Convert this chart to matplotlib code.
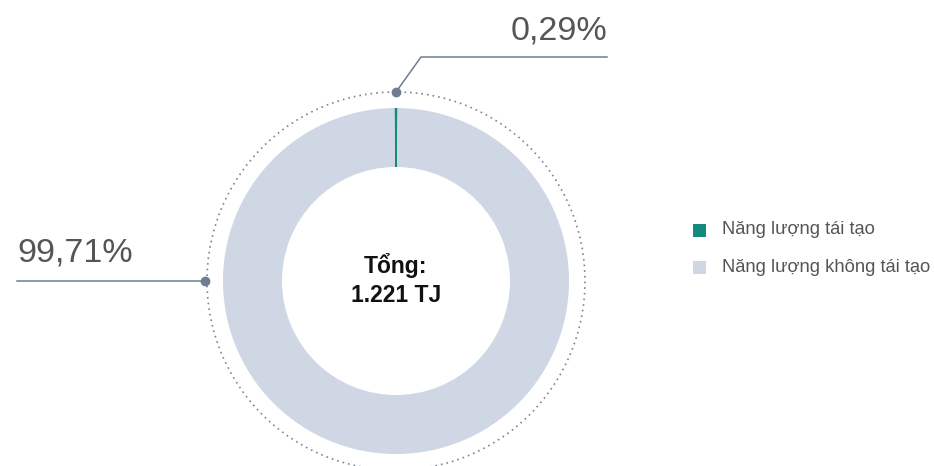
import matplotlib
matplotlib.use("Agg")
import matplotlib.pyplot as plt
from matplotlib.patches import Circle, Rectangle
import numpy as np

plt.rcParams['font.family'] = ['Liberation Sans', 'DejaVu Sans']

categories = ["Năng lượng tái tạo", "Năng lượng không tái tạo"]
values = [0.29, 99.71]
colors = ["#138a7b", "#cfd7e4"]
center_title = "Tổng:"
center_total = "1.221 TJ"
label_angles = [90, 180]

W, H = 934, 466
fig = plt.figure(figsize=(W / 100, H / 100), dpi=100)
ax = fig.add_axes([0, 0, 1, 1])

cx, cy = 396, H - 281
R, width = 173, 59
start = 90 - values[0] / sum(values) * 360 / 2
ax.pie(values, colors=colors, startangle=start, counterclock=True,
       radius=R, center=(cx, cy), wedgeprops=dict(width=width, linewidth=0))
ax.set_xlim(0, W)
ax.set_ylim(0, H)
ax.set_aspect('equal')
ax.axis('off')

# dotted outer ring
ax.add_patch(Circle((cx, cy), 189, fill=False, edgecolor="#7a869a",
                    linewidth=1.2, linestyle=(0, (1, 2.4))))

line_c = "#6f7d91"


def fmt(v):
    return f"{v:.2f}".replace(".", ",") + "%"


a = np.deg2rad(label_angles[0])
px, py = cx + 189 * np.cos(a), cy + 189 * np.sin(a)
ax.plot([px, px + 25, 607], [py, H - 57, H - 57], color=line_c, lw=1.1)
ax.plot(px, py, 'o', color=line_c, ms=6)
ax.text(607, H - 40, fmt(values[0]), ha='right', va='baseline',
        fontsize=24.5, color="#555555")

a = np.deg2rad(label_angles[1])
px, py = cx + 191 * np.cos(a), cy + 191 * np.sin(a)
ax.plot([px, 17], [py, py], color=line_c, lw=1.1)
ax.plot(px, py, 'o', color=line_c, ms=6)
ax.text(17, H - 262, fmt(values[1]), ha='left', va='baseline',
        fontsize=24.5, color="#555555")

# center text
ax.text(cx, H - 265, center_title, ha='center', va='center',
        fontsize=16.5, fontweight='bold', color="#111111")
ax.text(cx, H - 296, center_total, ha='center', va='center',
        fontsize=16.5, fontweight='bold', color="#111111")

# legend
for i, (lab, col) in enumerate(zip(categories, colors)):
    y = H - (230 + i * 37)
    ax.add_patch(Rectangle((693, y - 6.5), 13, 13, facecolor=col, edgecolor='none'))
    ax.text(722, y, lab, ha='left', va='center', fontsize=13.2, color="#555555")

fig.savefig("out.png", dpi=100)
